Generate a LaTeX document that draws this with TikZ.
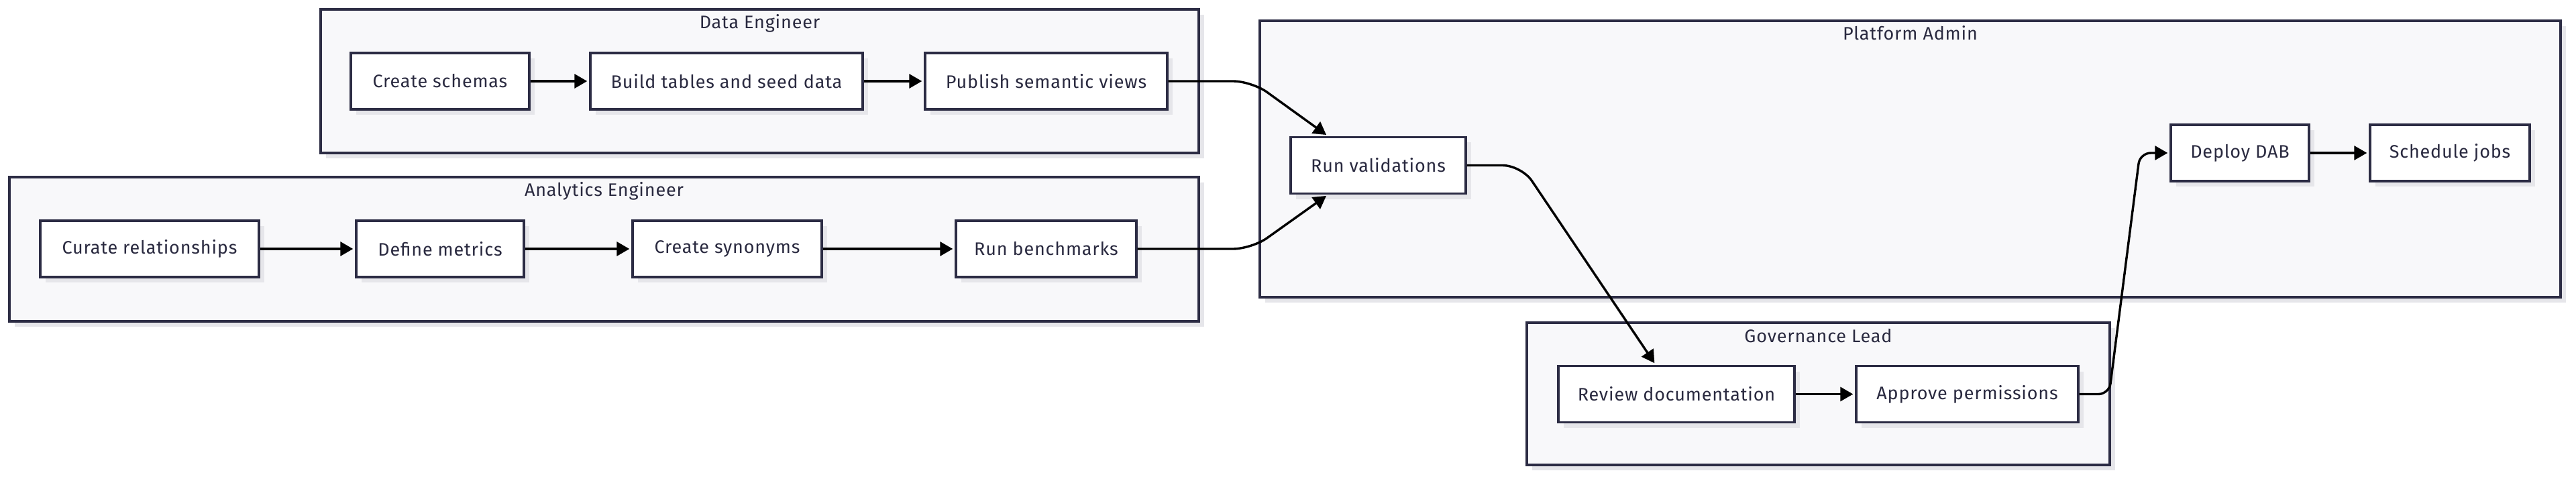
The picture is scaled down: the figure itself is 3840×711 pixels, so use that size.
\documentclass[tikz,border=0pt]{standalone}
\usepackage{fontspec}
\setmainfont{Fira Sans}[LetterSpace=3]
\usetikzlibrary{arrows.meta,shadows,calc}
\definecolor{bordc}{HTML}{2C2C44}
\definecolor{clfill}{HTML}{F8F8FA}
\definecolor{shadc}{HTML}{E6E6EA}
\definecolor{txtc}{HTML}{2A2A40}
\tikzset{
  x=1pt, y=-1pt,
  shad/.style={drop shadow={shadow xshift=8pt, shadow yshift=-8pt, fill=shadc, opacity=1}},
  cluster/.style={draw=bordc, fill=clfill, line width=3.4pt, shad},
  task/.style={draw=bordc, fill=white, line width=3.4pt, shad, rectangle, inner sep=0pt,
    minimum height=84pt, text=txtc, font=\fontsize{27}{32}\selectfont},
  ctitle/.style={anchor=base, text=txtc, font=\fontsize{27}{32}\selectfont, inner sep=0pt},
  arr/.style={draw=black, line width=3.4pt, -{Triangle[length=19pt,width=21pt]}, shorten >=3pt},
}
\begin{document}
\begin{tikzpicture}
\useasboundingbox[fill=white] (0,0) rectangle (3840,711);
% clusters
\path[cluster] (478,14) rectangle (1787,228);
\path[cluster] (14,264) rectangle (1787,479);
\path[cluster] (1878,31) rectangle (3817,443);
\path[cluster] (2276,481) rectangle (3145,693);
\node[ctitle] (tde) at (1132.5,43) {Data Engineer};
\node[ctitle] (tae) at (900.5,293) {Analytics Engineer};
\node[ctitle] (tpa) at (2847.5,60) {Platform Admin};
\node[ctitle] (tgl) at (2710.5,510) {Governance Lead};
% nodes
\node[task, minimum width=266pt] (cs) at (656,121) {Create schemas};
\node[task, minimum width=406pt] (bt) at (1083,121) {Build tables and seed data};
\node[task, minimum width=361pt] (pv) at (1559.5,121) {Publish semantic views};
\node[task, minimum width=326pt] (cr) at (223,371) {Curate relationships};
\node[task, minimum width=250pt] (dm) at (656,371) {Define metrics};
\node[task, minimum width=282pt] (sy) at (1084,371) {Create synonyms};
\node[task, minimum width=269pt] (rb) at (1559.5,371) {Run benchmarks};
\node[task, minimum width=261pt] (rv) at (2054.5,246.5) {Run validations};
\node[task, minimum width=206pt] (dd) at (3339,228) {Deploy DAB};
\node[task, minimum width=238pt] (sj) at (3652,228) {Schedule jobs};
\node[task, minimum width=352pt] (rd) at (2499,587.5) {Review documentation};
\node[task, minimum width=331pt] (ap) at (2932.5,587.5) {Approve permissions};
% edges
\draw[arr] (cs) -- (bt);
\draw[arr] (bt) -- (pv);
\draw[arr] (cr) -- (dm);
\draw[arr] (dm) -- (sy);
\draw[arr] (sy) -- (rb);
\draw[arr] (dd) -- (sj);
\draw[arr] (rd) -- (ap);
\draw[arr, rounded corners=28pt] (pv.east) -- (1866,121) -- ([xshift=-75pt]rv.north);
\draw[arr, rounded corners=28pt] (rb.east) -- (1866,371) -- ([xshift=-75pt]rv.south);
\draw[arr, rounded corners=28pt] (rv.east) -- (2268,246.5) -- ([xshift=-31pt]rd.north);
\draw[arr, rounded corners=16pt] (ap.east) -- (3144,587.5) -- (3190,228) -- (dd.west);
\end{tikzpicture}
\end{document}
